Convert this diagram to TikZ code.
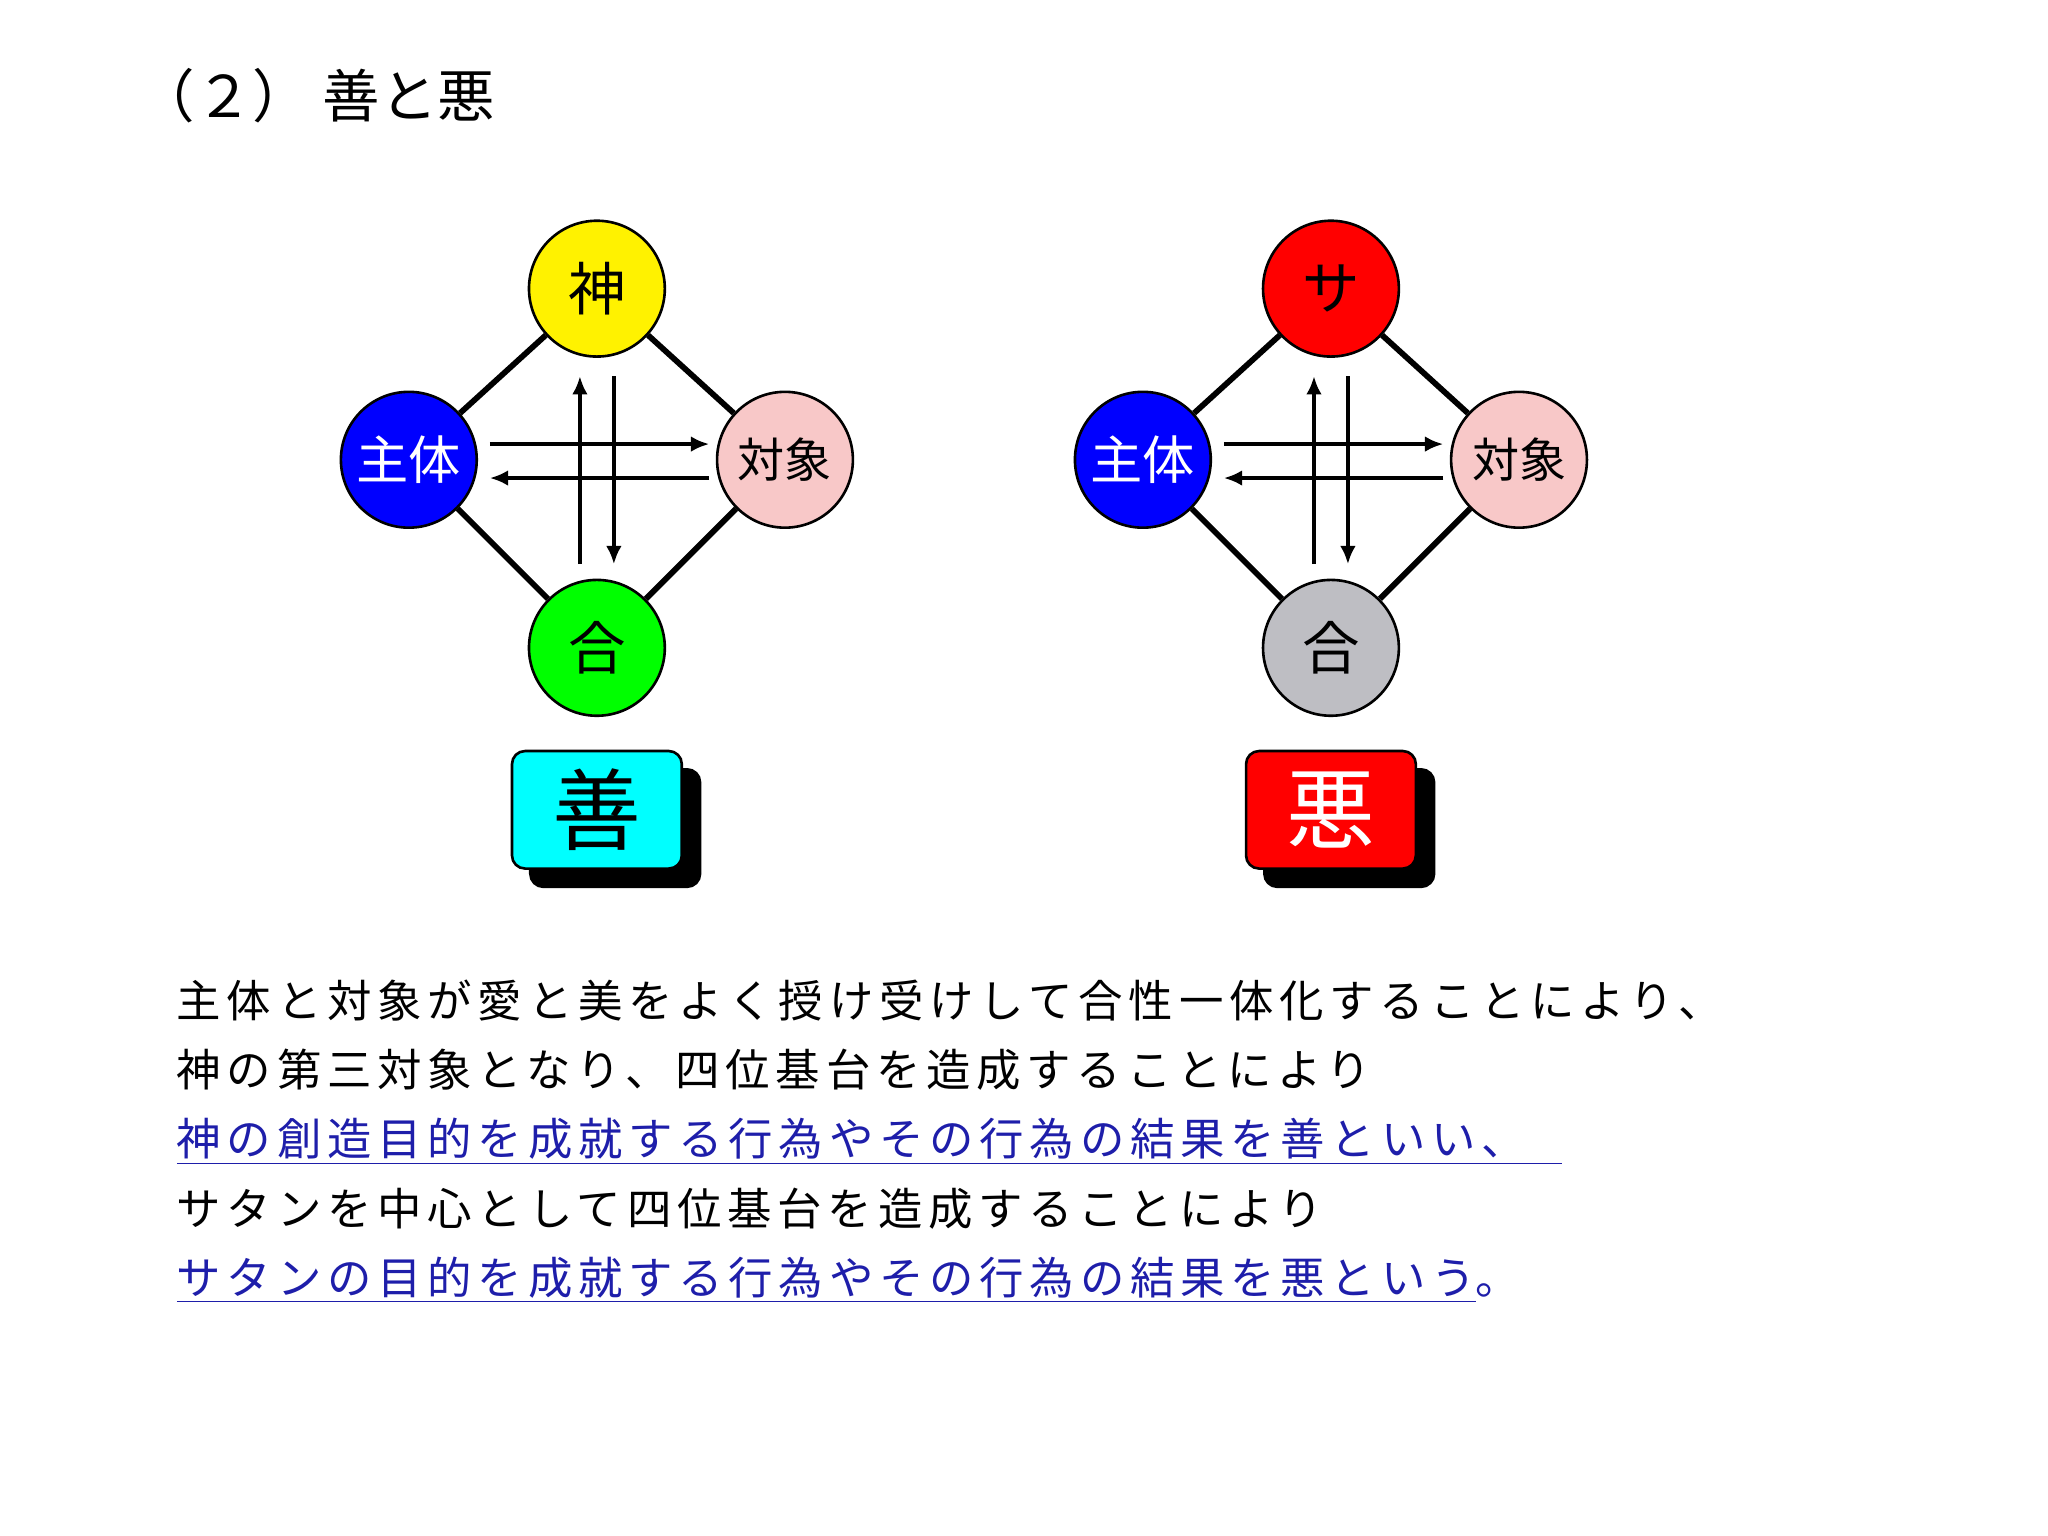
\documentclass[tikz,border=0pt]{standalone}
\usepackage{fontspec}
\setmainfont{Noto Sans CJK JP}
\newfontfamily\spacedjp[LetterSpace=13]{Noto Sans CJK JP}
\usetikzlibrary{arrows.meta}
\definecolor{ulblue}{RGB}{30,30,170}
\definecolor{pinkc}{RGB}{248,200,200}
\definecolor{grayc}{RGB}{190,190,195}
\definecolor{cyanc}{RGB}{0,255,255}
\tikzset{
 circ/.style={circle,draw=black,line width=1pt,minimum size=52pt,inner sep=0pt},
 edge/.style={line width=2.2pt},
 arr/.style={line width=1.5pt,-{Latex[length=7pt,width=6pt]}},
 lbl/.style={rounded corners=5pt,draw=black,line width=1pt,minimum width=65pt,minimum height=45pt,inner sep=0pt},
 txt/.style={anchor=base west,inner sep=0pt,font=\spacedjp\fontsize{17pt}{17pt}\selectfont}
}
\begin{document}
\begin{tikzpicture}[x=0.5pt,y=-0.5pt]
\useasboundingbox (0,0) rectangle (1568,1176);
\node[anchor=base west,inner sep=0pt,font=\fontsize{22pt}{22pt}\selectfont] (title) at (105,90) {（２）\ 善と悪};
\foreach \dx/\topc/\toptext/\botc/\boxc/\boxt/\boxtc/\nm in {0/yellow/神/green/cyanc/善/black/L, 562/red/サ/grayc/red/悪/white/R}{
 \node[circ,fill=\topc,font=\fontsize{22pt}{22pt}\selectfont] (t\nm) at (457+\dx,221) {\toptext};
 \node[circ,fill=blue,text=white,font=\fontsize{20pt}{20pt}\selectfont] (s\nm) at (313+\dx,352) {主体};
 \node[circ,fill=pinkc,font=\fontsize{18pt}{18pt}\selectfont] (o\nm) at (601+\dx,352) {対象};
 \node[circ,fill=\botc,font=\fontsize{22pt}{22pt}\selectfont] (b\nm) at (457+\dx,496) {合};
 \draw[edge] (t\nm) -- (s\nm);
 \draw[edge] (t\nm) -- (o\nm);
 \draw[edge] (s\nm) -- (b\nm);
 \draw[edge] (o\nm) -- (b\nm);
 \coordinate (h1a\nm) at (375+\dx,340); \coordinate (h1b\nm) at (543+\dx,340);
 \coordinate (h2a\nm) at (543+\dx,366); \coordinate (h2b\nm) at (375+\dx,366);
 \coordinate (v1a\nm) at (444+\dx,432); \coordinate (v1b\nm) at (444+\dx,288);
 \coordinate (v2a\nm) at (470+\dx,288); \coordinate (v2b\nm) at (470+\dx,432);
 \draw[arr] (h1a\nm) -- (h1b\nm);
 \draw[arr] (h2a\nm) -- (h2b\nm);
 \draw[arr] (v1a\nm) -- (v1b\nm);
 \draw[arr] (v2a\nm) -- (v2b\nm);
 \node[lbl,fill=black] (sh\nm) at (471+\dx,634) {};
 \node[lbl,fill=\boxc,text=\boxtc,font=\fontsize{34pt}{34pt}\selectfont] (box\nm) at (457+\dx,620) {\boxt};
}
\node[txt] (l1) at (135,779) {主体と対象が愛と美をよく授け受けして合性一体化することにより、};
\node[txt] (l2) at (135,832) {神の第三対象となり、四位基台を造成することにより};
\node[txt,text=ulblue] (l3) at (135,885) {\underline{神の創造目的を成就する行為やその行為の結果を善といい、\hspace{0.8em}}};
\node[txt] (l4) at (135,938) {サタンを中心として四位基台を造成することにより};
\node[txt,text=ulblue] (l5) at (135,991) {\underline{サタンの目的を成就する行為やその行為の結果を悪という}。};
\end{tikzpicture}
\end{document}
